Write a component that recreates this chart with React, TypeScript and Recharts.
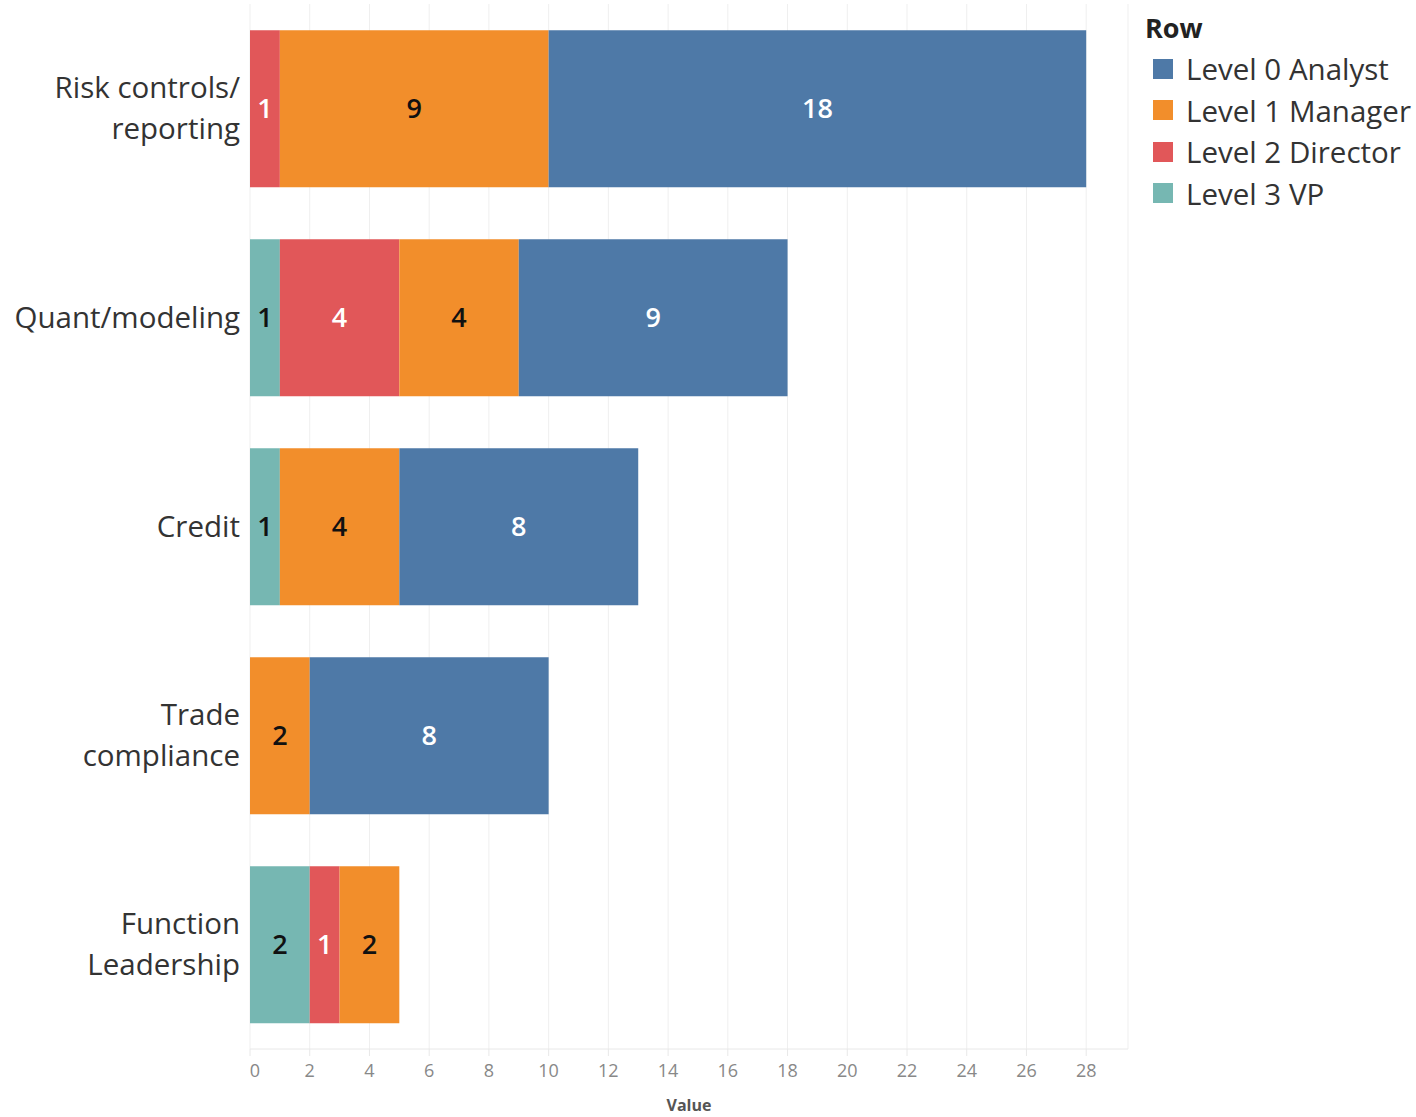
import { BarChart, Bar, XAxis, YAxis, CartesianGrid, LabelList, Label } from 'recharts';

const categories = ['Risk controls/\nreporting', 'Quant/modeling', 'Credit', 'Trade\ncompliance', 'Function\nLeadership'];
const vp = [0, 1, 1, 0, 2];
const director = [1, 4, 0, 0, 1];
const manager = [9, 4, 4, 2, 2];
const analyst = [18, 9, 8, 8, 0];
const xTicks = [0, 2, 4, 6, 8, 10, 12, 14, 16, 18, 20, 22, 24, 26, 28];

// stack order left -> right
const series = [
  { key: 'vp', name: 'Level 3 VP', color: '#76b7b2', text: '#111' },
  { key: 'director', name: 'Level 2 Director', color: '#e15759', text: '#fff' },
  { key: 'manager', name: 'Level 1 Manager', color: '#f28e2b', text: '#111' },
  { key: 'analyst', name: 'Level 0 Analyst', color: '#4e79a7', text: '#fff' },
];

const data = categories.map((name, i) => ({
  name,
  vp: vp[i],
  director: director[i],
  manager: manager[i],
  analyst: analyst[i],
}));

const FONT = '"Open Sans", Lato, sans-serif';

function CategoryTick(props: any) {
  const { x, y, payload } = props;
  const lines = String(payload.value).split('\n');
  const lh = 41;
  const start = -((lines.length - 1) * lh) / 2;
  return (
    <text x={x} y={y} textAnchor="end" fontSize={29.5} fill="#333" fontFamily={FONT}>
      {lines.map((l, i) => (
        <tspan key={i} x={x} dy={i === 0 ? start + 10 : lh}>
          {l}
        </tspan>
      ))}
    </text>
  );
}

function ValueTick(props: any) {
  const { x, y, payload } = props;
  const shift = payload.value === 0 ? 5 : 0;
  return (
    <text x={x + shift} y={y} dy={15} textAnchor="middle" fontSize={18} fill="#888" fontFamily={FONT}>
      {payload.value}
    </text>
  );
}

export default function App() {
  const legendItems = [...series].reverse();
  return (
    <div style={{ position: 'absolute', left: 0, top: 0, width: 1416, height: 1117, background: '#fff', fontFamily: FONT }}>
      <BarChart
        width={1416}
        height={1117}
        data={data}
        layout="vertical"
        barCategoryGap="12.5%"
        margin={{ top: 4, right: 288, bottom: 0, left: 0 }}
      >
        <CartesianGrid horizontal={false} stroke="#efefef" />
        <XAxis
          type="number"
          domain={[0, 29.4]}
          ticks={xTicks}
          height={68}
          tickSize={7}
          tickMargin={6}
          axisLine={{ stroke: '#e8e8e8' }}
          tickLine={{ stroke: '#e8e8e8' }}
          tick={<ValueTick />}
        >
          <Label value="Value" position="insideBottom" offset={6} fill="#555" fontSize={16} fontWeight={700} fontFamily={FONT} />
        </XAxis>
        <YAxis
          type="category"
          dataKey="name"
          width={250}
          axisLine={false}
          tickLine={false}
          tickSize={0}
          tickMargin={10}
          tick={<CategoryTick />}
        />
        {series.map((s) => (
          <Bar key={s.key} dataKey={s.key} name={s.name} stackId="a" fill={s.color} isAnimationActive={false}>
            <LabelList
              dataKey={s.key}
              position="center"
              fill={s.text}
              fontSize={27}
              fontWeight={600}
              fontFamily={FONT}
              formatter={(v: any) => (v ? v : '')}
            />
          </Bar>
        ))}
      </BarChart>
      <div style={{ position: 'absolute', left: 1145, top: 8, color: '#333' }}>
        <div style={{ fontSize: 27, fontWeight: 700, lineHeight: '40px', color: '#222' }}>Row</div>
        {legendItems.map((s) => (
          <div key={s.key} style={{ display: 'flex', alignItems: 'center', height: 41.5, fontSize: 29.5, whiteSpace: 'nowrap' }}>
            <span style={{ display: 'inline-block', width: 20, height: 20, marginLeft: 8, background: s.color }} />
            <span style={{ marginLeft: 13 }}>{s.name}</span>
          </div>
        ))}
      </div>
    </div>
  );
}
